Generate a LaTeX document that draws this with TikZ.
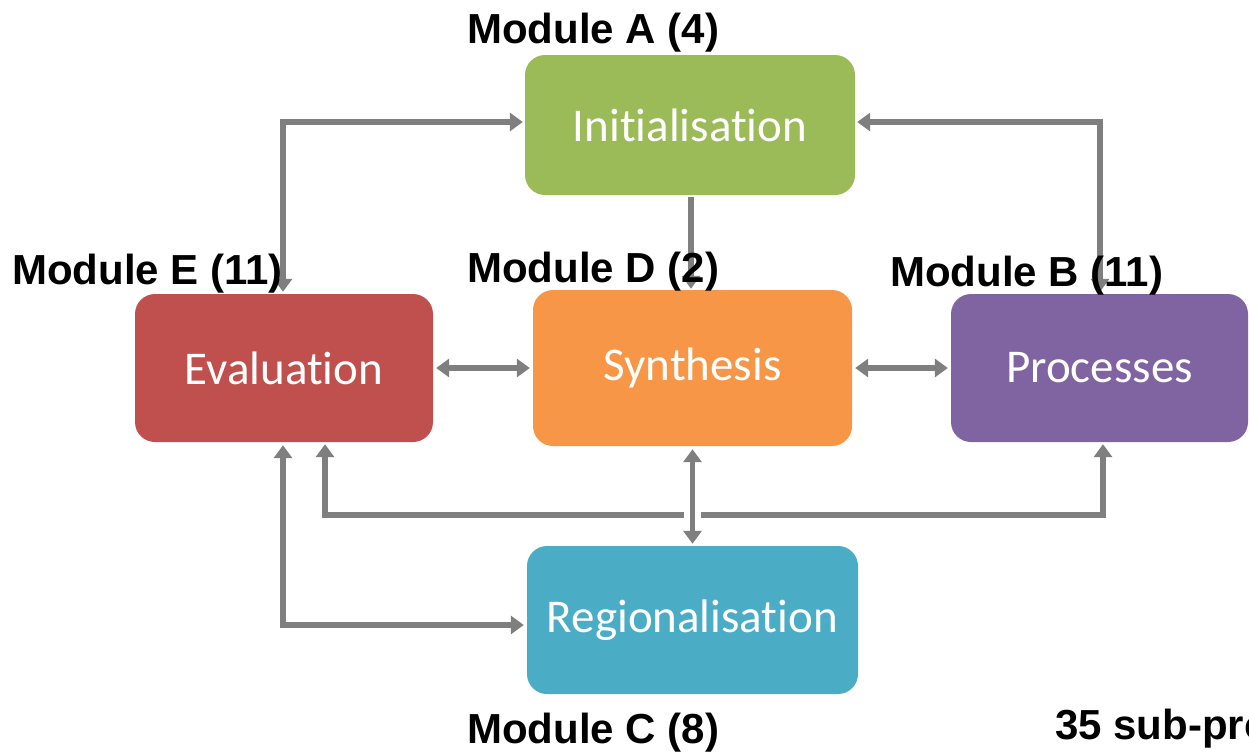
\documentclass[tikz,border=0pt]{standalone}
\usepackage{fontspec}
\setmainfont{Liberation Sans}
\newfontfamily\boxfont[RawFeature={-liga;-dlig}]{Carlito}
\usetikzlibrary{arrows.meta,calc}
\definecolor{cinit}{HTML}{9BBB59}
\definecolor{ceval}{HTML}{C0504D}
\definecolor{csynth}{HTML}{F79646}
\definecolor{cproc}{HTML}{8064A2}
\definecolor{creg}{HTML}{4BACC6}
\definecolor{cline}{HTML}{7F7F7F}
\begin{document}
\begin{tikzpicture}[x=1pt,y=-1pt,
  modbox/.style={fill=#1, draw=none, rounded corners=20pt, inner sep=0pt,
    text=white, font=\boxfont\fontsize{47}{56}\selectfont},
  modlabel/.style={anchor=base west, inner sep=0pt, font=\bfseries\fontsize{42}{50}\selectfont},
  conn/.style={draw=cline, line width=5.5pt,
    arrows={-}, >={Triangle[width=18pt,length=13pt]}}]
\useasboundingbox (0,0) rectangle (1249,753);
\clip (0,0) rectangle (1249,753);
% boxes
\node[modbox=cinit, minimum width=330pt, minimum height=140pt] (init) at (690,125) {Initialisation};
\node[modbox=ceval, minimum width=298pt, minimum height=148pt] (eval) at (284,368) {Evaluation};
\node[modbox=csynth, minimum width=319pt, minimum height=156pt] (synth) at (692.5,368) {Synthesis};
\node[modbox=cproc, minimum width=297pt, minimum height=148pt] (proc) at (1099.5,368) {Processes};
\node[modbox=creg, minimum width=331pt, minimum height=148pt] (reg) at (692.5,620) {Regionalisation};
% helper coordinates
\coordinate (bl) at (325,515);
\coordinate (br) at (1103,515);
\coordinate (gapl) at (684,515);
\coordinate (gapr) at (701,515);
\coordinate (ebl) at (283,625);
\coordinate (etl) at (283,122);
\coordinate (ptr) at (1100,122);
% connectors
\draw[conn,<->] ($(eval.north)+(-1,-2)$) -- (etl) -- ($(init.west|-etl)+(-2,0)$);
\draw[conn,<->] ($(init.east|-ptr)+(2,0)$) -- (ptr) -- ($(proc.north)+(0.5,-2)$);
\draw[conn,->] ($(init.south)+(1,2)$) -- ($(synth.north)+(-1.5,-1)$);
\draw[conn,<->] ($(eval.east)+(3,0)$) -- ($(synth.west)+(-3,0)$);
\draw[conn,<->] ($(synth.east)+(3,0)$) -- ($(proc.west)+(-3,0)$);
\draw[conn,<->] ($(synth.south)+(0,3)$) -- ($(reg.north)+(0,-2)$);
\draw[conn,<-] ($(eval.south-|bl)+(0,2)$) -- (bl) -- (gapl);
\draw[conn,->] (gapr) -- (br) -- ($(proc.south-|br)+(0,2)$);
\draw[conn,<->] ($(eval.south-|ebl)+(0,3)$) -- (ebl) -- ($(reg.west|-ebl)+(-3,0)$);
% labels
\node[modlabel] (la) at (467,43) {Module A (4)};
\node[modlabel] (le) at (12,284) {Module E (11)};
\node[modlabel] (ld) at (467,282) {Module D (2)};
\node[modlabel] (lb) at (890,286) {Module B (11)};
\node[modlabel] (lc) at (467,743) {Module C (8)};
\node[modlabel] (ls) at (1055,739) {35 sub-processes};
\end{tikzpicture}
\end{document}
